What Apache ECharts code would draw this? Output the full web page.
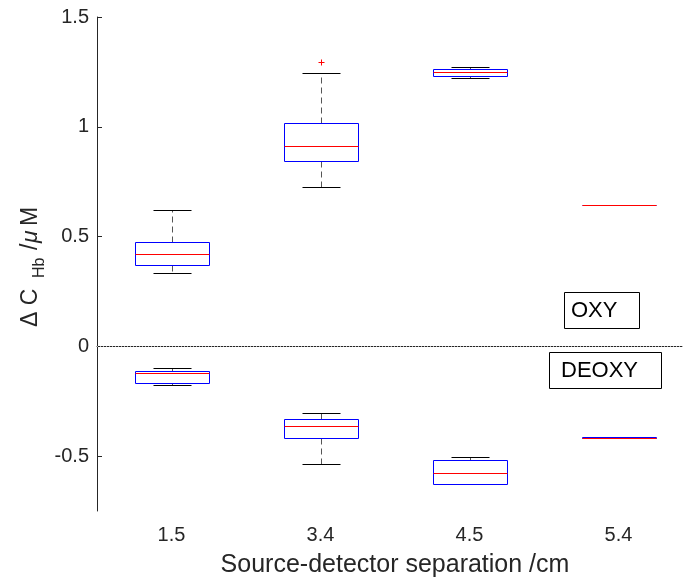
<!DOCTYPE html>
<html>
<head>
<meta charset="utf-8">
<script src="https://cdn.jsdelivr.net/npm/echarts@6/dist/echarts.min.js"></script>
<style>
  html, body { margin: 0; padding: 0; background: #fff; }
  #chart { width: 683px; height: 577px; }
</style>
</head>
<body>
<div id="chart"></div>
<script>
const categories = ['1.5', '3.4', '4.5', '5.4']
// [lower whisker, q1, median, q3, upper whisker]
const oxyStats = [
  [0.336, 0.369, 0.419, 0.476, 0.623],
  [0.727, 0.844, 0.911, 1.018, 1.243],
  [1.222, 1.230, 1.248, 1.265, 1.274],
  [0.642, 0.642, 0.642, 0.642, 0.642]
]
const deoxyStats = [
  [-0.178, -0.166, -0.122, -0.111, -0.097],
  [-0.538, -0.418, -0.363, -0.331, -0.302],
  [-0.628, -0.625, -0.575, -0.517, -0.506],
  [-0.4195, -0.4195, -0.4175, -0.4150, -0.4150]
]
// [category index, value]
const outliers = [[1, 1.294]]
const yTicks = [-0.5, 0, 0.5, 1, 1.5]
const referenceLevel = [0]

const FONT = 'Liberation Sans, Arial, Helvetica, sans-serif'
const AXIS_COLOR = '#262626'

// snap to pixel centres so 1px lines stay crisp
const px = v => Math.round(v) + 0.5

function seg(x1, y1, x2, y2, color, dash, z2) {
  return {
    type: 'line',
    z2: z2,
    shape: { x1: x1, y1: y1, x2: x2, y2: y2 },
    style: { stroke: color, fill: null, lineWidth: 1, lineDash: dash || null }
  }
}

function renderBox(params, api) {
  const x = api.value(0)
  const band = api.size([1, 0])[0]
  const half = Math.round(band * 0.25)
  const capHalf = Math.round(band * 0.125)
  const cx = px(api.coord([x, 0])[0])
  const yLo = px(api.coord([x, api.value(1)])[1])
  const yQ1 = px(api.coord([x, api.value(2)])[1])
  const yMed = px(api.coord([x, api.value(3)])[1])
  const yQ3 = px(api.coord([x, api.value(4)])[1])
  const yHi = px(api.coord([x, api.value(5)])[1])
  const children = []
  if (yQ3 - yHi >= 1) children.push(seg(cx, yQ3, cx, yHi, '#555', [6, 4], 1))
  if (yLo - yQ1 >= 1) children.push(seg(cx, yQ1, cx, yLo, '#555', [6, 4], 1))
  children.push(seg(cx - capHalf, yHi, cx + capHalf, yHi, '#000', null, 2))
  children.push(seg(cx - capHalf, yLo, cx + capHalf, yLo, '#000', null, 2))
  if (yQ1 - yQ3 >= 1) {
    children.push({
      type: 'rect',
      z2: 3,
      shape: { x: cx - half, y: yQ3, width: half * 2, height: yQ1 - yQ3 },
      style: { fill: null, stroke: '#0000ff', lineWidth: 1, lineDash: null }
    })
  } else {
    children.push(seg(cx - half, yQ3, cx + half, yQ3, '#0000ff', null, 3))
  }
  children.push(seg(cx - half, yMed, cx + half, yMed, '#ff0000', null, 4))
  return { type: 'group', children: children }
}

function renderPlus(params, api) {
  const p = api.coord([api.value(0), api.value(1)])
  const x = px(p[0]), y = px(p[1])
  const s = 3
  return {
    type: 'group',
    children: [
      seg(x - s, y, x + s, y, '#ff0000', null, 5),
      seg(x, y - s, x, y + s, '#ff0000', null, 5)
    ]
  }
}

// dotted horizontal line across the whole plot area
function renderLevel(params, api) {
  const cs = params.coordSys
  const y = px(api.coord([0, api.value(0)])[1])
  return seg(cs.x, y, cs.x + cs.width, y, '#b8b8b8', [1, 2], 0)
}

const chart = echarts.init(document.getElementById('chart'))

const option = {
  backgroundColor: '#fff',
  animation: false,
  grid: { left: 97, top: 17, width: 596, height: 494, outerBoundsMode: 'none', containLabel: false },
  xAxis: {
    type: 'category',
    data: categories,
    boundaryGap: true,
    axisLine: { lineStyle: { color: AXIS_COLOR } },
    axisTick: { inside: true, alignWithLabel: true, length: 5, lineStyle: { color: AXIS_COLOR } },
    axisLabel: { color: AXIS_COLOR, fontSize: 20, fontFamily: FONT, margin: 14 },
    splitLine: { show: false },
    name: 'Source-detector separation /cm',
    nameLocation: 'middle',
    nameGap: 42,
    nameTextStyle: { color: AXIS_COLOR, fontSize: 25, fontFamily: FONT }
  },
  yAxis: {
    type: 'value',
    min: -0.75,
    max: 1.5,
    axisLine: { show: true, lineStyle: { color: AXIS_COLOR } },
    axisTick: { show: true, inside: true, length: 5, customValues: yTicks, lineStyle: { color: AXIS_COLOR } },
    axisLabel: { color: AXIS_COLOR, fontSize: 20, fontFamily: FONT, margin: 8, customValues: yTicks },
    splitLine: { show: false }
  },
  series: [
    {
      type: 'custom',
      name: 'zero',
      renderItem: renderLevel,
      encode: { y: 0 },
      data: referenceLevel.map(v => [v]),
      silent: true,
      z: 2
    },
    {
      type: 'custom',
      name: 'OXY',
      renderItem: renderBox,
      encode: { x: 0, y: [1, 2, 3, 4, 5] },
      data: oxyStats.map((s, i) => [i].concat(s)),
      silent: true,
      z: 3
    },
    {
      type: 'custom',
      name: 'DEOXY',
      renderItem: renderBox,
      encode: { x: 0, y: [1, 2, 3, 4, 5] },
      data: deoxyStats.map((s, i) => [i].concat(s)),
      silent: true,
      z: 3
    },
    {
      type: 'custom',
      name: 'outliers',
      renderItem: renderPlus,
      encode: { x: 0, y: 1 },
      data: outliers,
      silent: true,
      z: 3
    }
  ],
  graphic: [
    {
      type: 'group',
      x: 31,
      y: 327,
      rotation: Math.PI / 2,
      children: [
        { type: 'text', x: 0, y: 0, style: { text: 'Δ C', fontSize: 23, fontFamily: FONT, fill: AXIS_COLOR, verticalAlign: 'middle' } },
        { type: 'text', x: 49, y: 9, style: { text: 'Hb', fontSize: 16, fontFamily: FONT, fill: AXIS_COLOR, verticalAlign: 'middle' } },
        { type: 'text', x: 77, y: 0, style: { text: '/', fontSize: 23, fontFamily: FONT, fill: AXIS_COLOR, verticalAlign: 'middle' } },
        { type: 'text', x: 84, y: 0, style: { text: 'μ', fontSize: 23, fontStyle: 'italic', fontFamily: FONT, fill: AXIS_COLOR, verticalAlign: 'middle' } },
        { type: 'text', x: 101, y: 0, style: { text: 'M', fontSize: 23, fontFamily: FONT, fill: AXIS_COLOR, verticalAlign: 'middle' } }
      ]
    },
    {
      type: 'group',
      children: [
        { type: 'rect', shape: { x: 564.5, y: 292.5, width: 75, height: 36 }, style: { fill: '#fff', stroke: '#000', lineWidth: 1 } },
        { type: 'text', x: 571, y: 311, style: { text: 'OXY', fontSize: 22, fontFamily: FONT, fill: '#000', verticalAlign: 'middle' } },
        { type: 'rect', shape: { x: 549.5, y: 352.5, width: 112, height: 36 }, style: { fill: '#fff', stroke: '#000', lineWidth: 1 } },
        { type: 'text', x: 561, y: 371, style: { text: 'DEOXY', fontSize: 22, fontFamily: FONT, fill: '#000', verticalAlign: 'middle' } }
      ]
    }
  ]
}

chart.setOption(option)
</script>
</body>
</html>
